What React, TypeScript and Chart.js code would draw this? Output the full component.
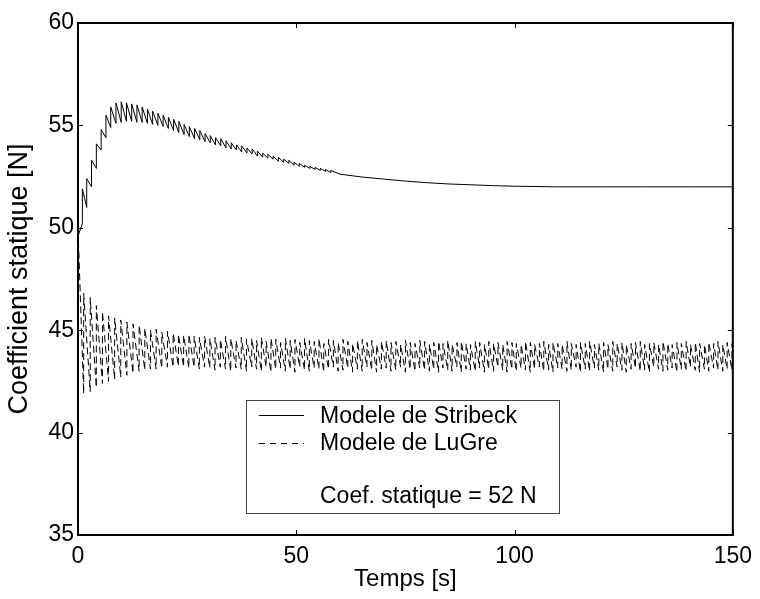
import React, { useEffect, useRef } from "react";
import { Chart, registerables } from "chart.js";

Chart.register(...registerables);

const FONT = "'Liberation Sans', Arial, Helvetica, sans-serif";

const xTicks = [0, 50, 100, 150];
const yTicks = [35, 40, 45, 50, 55, 60];
const seriesNames = ["Modele de Stribeck", "Modele de LuGre"];
const noteText = "Coef. statique = 52 N";
const xTitle = "Temps [s]";
const yTitle = "Coefficient statique [N]";

// Stribeck model: oscillation cycles (time, trough, peak)
const stribeckT = [
  0, 1.0, 2.0, 3.1, 4.2, 5.3, 6.4, 7.5, 8.7, 9.9,
  11.1, 12.3, 13.5, 14.7, 15.9, 17.1, 18.3, 19.5, 20.7, 21.9,
  23.1, 24.3, 25.5, 26.7, 27.9, 29.1, 30.3, 31.5, 32.7, 33.9,
  35.1, 36.3, 37.5, 38.7, 39.9, 41.1, 42.3, 43.5, 44.7, 45.9,
  47.1, 48.3, 49.5, 50.7, 51.9, 53.1, 54.3, 55.5, 56.7, 57.9,
];
const stribeckTrough = [
  49.0, 50.2, 51.0, 52.0, 52.9, 53.8, 54.4, 54.9, 55.1, 55.15,
  55.2, 55.2, 55.15, 55.15, 55.1, 55.05, 55.0, 54.95, 54.85, 54.75,
  54.65, 54.55, 54.45, 54.35, 54.3, 54.2, 54.15, 54.05, 54.0, 53.9,
  53.85, 53.8, 53.7, 53.65, 53.6, 53.5, 53.45, 53.4, 53.35, 53.25,
  53.2, 53.15, 53.05, 53.0, 52.95, 52.9, 52.85, 52.8, 52.75, 52.7,
];
const stribeckPeak = [
  49.6, 51.9, 52.4, 53.3, 54.1, 54.8, 55.5, 55.9, 56.1, 56.15,
  56.1, 56.05, 56.0, 55.9, 55.8, 55.7, 55.6, 55.5, 55.4, 55.3,
  55.2, 55.05, 54.95, 54.85, 54.75, 54.6, 54.5, 54.4, 54.35, 54.25,
  54.15, 54.05, 54.0, 53.9, 53.85, 53.75, 53.65, 53.6, 53.5, 53.45,
  53.35, 53.3, 53.2, 53.15, 53.05, 53.0, 52.95, 52.9, 52.85, 52.8,
];
// Stribeck model: settled tail
const stribeckTailT = [60, 65, 70, 75, 80, 85, 90, 95, 100, 110, 120, 130, 140, 150];
const stribeckTailV = [52.62, 52.48, 52.38, 52.28, 52.2, 52.14, 52.1, 52.06, 52.03, 52.0, 52.0, 52.0, 52.0, 52.0];

// LuGre model: oscillation cycles (time, low, high)
const lugreT = [
  0, 1.3, 2.8, 4.2, 5.6, 7.0, 8.4, 9.8, 11.2, 12.6,
  14.0, 15.3, 16.6, 17.9, 19.2, 20.5, 21.8, 23.0, 24.2, 25.4,
  26.6, 27.8, 29.0, 30.2, 31.4, 32.6, 33.8, 35.0, 36.2, 37.4,
  38.6, 39.8, 40.9, 42.0, 43.1, 44.2, 45.3, 46.4, 47.5, 48.6,
  49.7, 50.8, 51.9, 53.0, 54.1, 55.2, 56.3, 57.4, 58.5, 59.6,
  60.7, 61.8, 62.9, 64.0, 65.1, 66.2, 67.3, 68.4, 69.5, 70.6,
  71.7, 72.8, 73.9, 75.0, 76.1, 77.2, 78.3, 79.4, 80.5, 81.5,
  82.6, 83.6, 84.7, 85.7, 86.8, 87.8, 88.9, 89.9, 91.0, 92.0,
  93.1, 94.1, 95.2, 96.2, 97.3, 98.3, 99.4, 100.4, 101.5, 102.5,
  103.6, 104.6, 105.7, 106.7, 107.8, 108.8, 109.9, 110.9, 112.0, 113.0,
  114.1, 115.1, 116.2, 117.2, 118.3, 119.3, 120.4, 121.4, 122.5, 123.5,
  124.6, 125.6, 126.7, 127.7, 128.8, 129.8, 130.9, 131.9, 133.0, 134.0,
  135.1, 136.1, 137.2, 138.2, 139.3, 140.3, 141.4, 142.4, 143.5, 144.5,
  145.6, 146.6, 147.7, 148.7, 149.8,
];
const lugreLow = [
  49.0, 41.9, 42.0, 42.2, 42.4, 42.5, 42.6, 42.7, 42.8, 42.9,
  43.0, 43.05, 43.1, 43.1, 43.15, 43.2, 43.2, 43.25, 43.2, 43.15,
  43.2, 43.1, 43.2, 43.15, 43.05, 43.2, 43.1, 43.0, 43.15, 43.1,
  43.0, 43.2, 43.1, 43.0, 43.2, 42.95, 43.1, 43.15, 43.0, 43.1,
  42.95, 43.2, 43.05, 43.0, 43.15, 43.1, 42.95, 43.1, 43.2, 43.0,
  43.05, 43.15, 42.95, 43.1, 43.0, 43.2, 43.05, 42.95, 43.1, 43.15,
  43.0, 43.05, 43.2, 42.95, 43.1, 43.0, 43.15, 43.05, 43.0, 43.1,
  42.95, 43.15, 43.05, 43.0, 43.2, 42.95, 43.1, 43.05, 43.0, 43.15,
  42.95, 43.1, 43.0, 43.2, 43.05, 42.95, 43.1, 43.0, 43.15, 43.05,
  42.95, 43.1, 43.2, 43.0, 43.05, 42.95, 43.15, 43.1, 43.0, 43.05,
  43.2, 42.95, 43.1, 43.0, 43.15, 43.05, 42.95, 43.1, 43.0, 43.2,
  43.05, 42.95, 43.1, 43.15, 43.0, 43.05, 42.95, 43.2, 43.1, 43.0,
  43.05, 43.15, 42.95, 43.1, 43.0, 43.2, 43.05, 42.95, 43.1, 43.0,
  43.15, 43.05, 43.0, 43.1, 43.05,
];
const lugreHigh = [
  50.0, 46.8, 46.6, 46.2, 45.9, 45.7, 45.6, 45.5, 45.4, 45.3,
  45.25, 45.1, 45.0, 45.05, 44.9, 44.95, 44.85, 44.8, 44.75, 44.8,
  44.7, 44.65, 44.7, 44.6, 44.65, 44.55, 44.7, 44.6, 44.5, 44.65,
  44.55, 44.6, 44.5, 44.65, 44.45, 44.6, 44.55, 44.4, 44.6, 44.5,
  44.55, 44.4, 44.6, 44.5, 44.45, 44.6, 44.35, 44.55, 44.5, 44.4,
  44.55, 44.45, 44.35, 44.5, 44.55, 44.4, 44.5, 44.3, 44.45, 44.5,
  44.4, 44.45, 44.3, 44.5, 44.4, 44.35, 44.5, 44.45, 44.3, 44.4,
  44.45, 44.35, 44.5, 44.3, 44.4, 44.45, 44.35, 44.3, 44.45, 44.4,
  44.3, 44.45, 44.35, 44.4, 44.3, 44.45, 44.4, 44.35, 44.3, 44.45,
  44.4, 44.3, 44.35, 44.45, 44.3, 44.4, 44.35, 44.3, 44.45, 44.35,
  44.3, 44.4, 44.35, 44.45, 44.3, 44.35, 44.4, 44.3, 44.45, 44.35,
  44.4, 44.3, 44.35, 44.4, 44.45, 44.3, 44.35, 44.4, 44.3, 44.45,
  44.35, 44.3, 44.4, 44.35, 44.45, 44.3, 44.4, 44.35, 44.3, 44.4,
  44.35, 44.45, 44.3, 44.4, 44.35,
];

function cyclePoints(t: number[], lo: number[], hi: number[]) {
  const pts: { x: number; y: number }[] = [];
  const n = Math.min(t.length, lo.length, hi.length);
  for (let i = 0; i < n; i++) {
    pts.push({ x: t[i], y: lo[i] });
    pts.push({ x: t[i], y: hi[i] });
  }
  return pts;
}

const framePlugin = {
  id: "frameTicks",
  afterDraw(chart: any) {
    const { ctx, chartArea } = chart;
    const { left, right, top, bottom } = chartArea;
    const xs = chart.scales.x;
    const ys = chart.scales.y;
    ctx.save();
    ctx.strokeStyle = "#000";
    ctx.lineWidth = 1;
    const tl = 5;
    ctx.beginPath();
    xTicks.forEach((v) => {
      const px = Math.round(xs.getPixelForValue(v)) + 0.5;
      ctx.moveTo(px, bottom);
      ctx.lineTo(px, bottom - tl);
      ctx.moveTo(px, top);
      ctx.lineTo(px, top + tl);
    });
    yTicks.forEach((v) => {
      const py = Math.round(ys.getPixelForValue(v)) + 0.5;
      ctx.moveTo(left, py);
      ctx.lineTo(left + tl, py);
      ctx.moveTo(right, py);
      ctx.lineTo(right - tl, py);
    });
    ctx.stroke();
    ctx.lineWidth = 2;
    ctx.strokeRect(left, top, right - left, bottom - top);
    ctx.restore();
  },
};

const legendPlugin = {
  id: "boxLegend",
  afterDatasetsDraw(chart: any) {
    const { ctx } = chart;
    const bx = 246, by = 400, bw = 313, bh = 113;
    ctx.save();
    ctx.fillStyle = "#fff";
    ctx.fillRect(bx, by, bw, bh);
    ctx.strokeStyle = "#444";
    ctx.lineWidth = 1;
    ctx.strokeRect(bx + 0.5, by + 0.5, bw, bh);
    ctx.strokeStyle = "#000";
    ctx.beginPath();
    ctx.moveTo(259, 415.5);
    ctx.lineTo(304, 415.5);
    ctx.stroke();
    ctx.setLineDash([6, 5]);
    ctx.beginPath();
    ctx.moveTo(259, 443.5);
    ctx.lineTo(304, 443.5);
    ctx.stroke();
    ctx.setLineDash([]);
    ctx.fillStyle = "#000";
    ctx.font = `23px ${FONT}`;
    ctx.textBaseline = "middle";
    ctx.textAlign = "left";
    ctx.fillText(seriesNames[0], 320, 417);
    ctx.fillText(seriesNames[1], 320, 444);
    ctx.fillText(noteText, 320, 497);
    ctx.restore();
  },
};

export default function App() {
  const ref = useRef<HTMLCanvasElement | null>(null);
  useEffect(() => {
    if (!ref.current) return;
    const stribeck = cyclePoints(stribeckT, stribeckTrough, stribeckPeak).concat(
      stribeckTailT.map((t, i) => ({ x: t, y: stribeckTailV[i] }))
    );
    const lugre = cyclePoints(lugreT, lugreLow, lugreHigh);
    const chart = new Chart(ref.current, {
      type: "line",
      data: {
        datasets: [
          {
            label: seriesNames[0],
            data: stribeck,
            borderColor: "#000",
            borderWidth: 1,
            pointRadius: 0,
            tension: 0,
            fill: false,
          },
          {
            label: seriesNames[1],
            data: lugre,
            borderColor: "#000",
            borderWidth: 1,
            borderDash: [7, 4],
            pointRadius: 0,
            tension: 0,
            fill: false,
          },
        ],
      },
      options: {
        animation: false,
        responsive: false,
        devicePixelRatio: 1,
        parsing: false,
        normalized: true,
        layout: { padding: { top: 23, right: 23, left: 0, bottom: 0 } },
        plugins: { legend: { display: false }, tooltip: { enabled: false } },
        scales: {
          x: {
            type: "linear",
            min: 0,
            max: 150,
            afterBuildTicks: (s: any) => {
              s.ticks = xTicks.map((v) => ({ value: v }));
            },
            afterFit: (s: any) => {
              s.height = 64;
            },
            grid: { display: false, drawTicks: false },
            border: { display: false },
            ticks: {
              color: "#000",
              font: { family: FONT, size: 23 },
              padding: 8,
              maxRotation: 0,
              autoSkip: false,
            },
            title: {
              display: true,
              text: xTitle,
              color: "#000",
              font: { family: FONT, size: 24 },
              padding: { top: 0, bottom: 5 },
            },
          },
          y: {
            type: "linear",
            min: 35,
            max: 60,
            afterBuildTicks: (s: any) => {
              s.ticks = yTicks.map((v) => ({ value: v }));
            },
            afterFit: (s: any) => {
              s.width = 78;
            },
            grid: { display: false, drawTicks: false },
            border: { display: false },
            ticks: {
              color: "#000",
              font: { family: FONT, size: 23 },
              padding: 4,
              autoSkip: false,
            },
            title: {
              display: true,
              text: yTitle,
              color: "#000",
              font: { family: FONT, size: 27 },
              padding: { top: 3, bottom: 0 },
            },
          },
        },
      },
      plugins: [framePlugin, legendPlugin],
    });
    return () => chart.destroy();
  }, []);
  return (
    <div style={{ position: "fixed", left: 0, top: 0, width: 760, height: 599, background: "#fff" }}>
      <canvas ref={ref} width={760} height={599} />
    </div>
  );
}
